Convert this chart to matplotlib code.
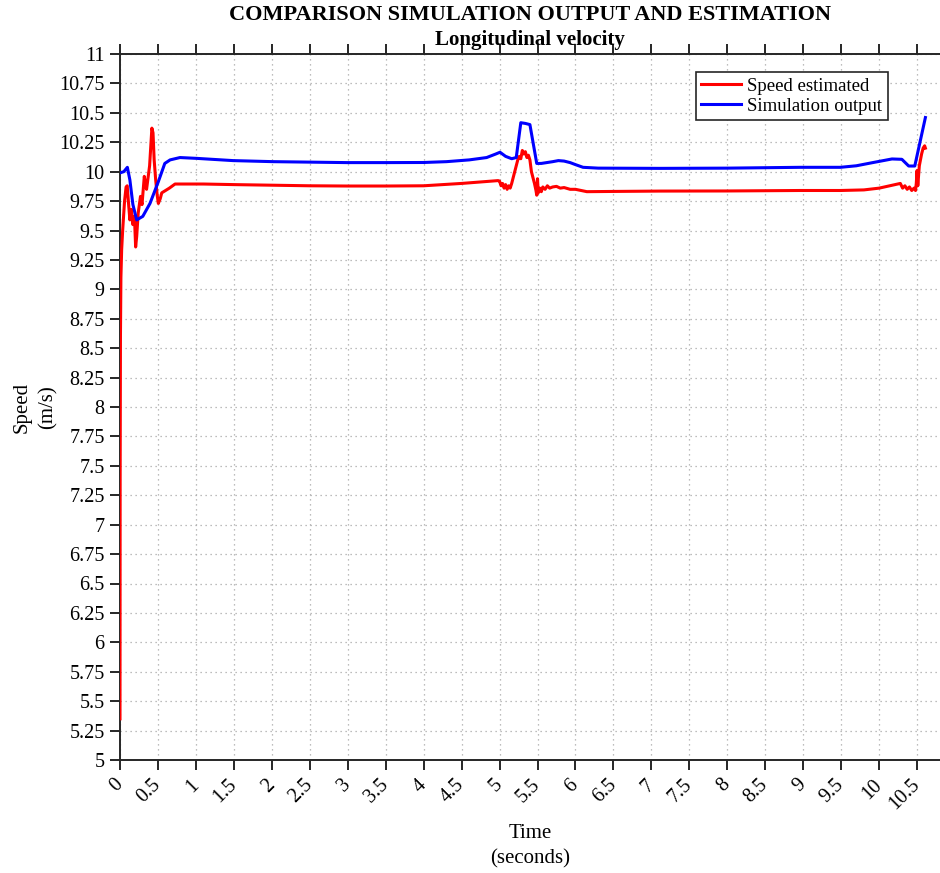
import matplotlib
matplotlib.use('Agg')
import matplotlib.pyplot as plt
import matplotlib.transforms as mtrans
import numpy as np

plt.rcParams['font.family'] = ['Liberation Serif', 'DejaVu Serif']

# simulation output (blue)
sim_t = [0, 0.05, 0.097, 0.13, 0.17, 0.22, 0.3, 0.395, 0.505, 0.59, 0.66, 0.79,
         1.01, 1.49, 2.02, 2.99, 3.5, 4.0, 4.3, 4.6, 4.83, 4.95, 5.006, 5.08,
         5.16, 5.22, 5.28, 5.34, 5.40, 5.49, 5.55, 5.62, 5.7, 5.775, 5.85,
         5.93, 6.0, 6.10, 6.3, 7.11, 8.0, 8.96, 9.49, 9.7, 9.9, 10.17, 10.30,
         10.39, 10.47, 10.61]
sim_v = [9.99, 10.0, 10.037, 9.93, 9.72, 9.59, 9.62, 9.73, 9.915, 10.07, 10.10,
         10.12, 10.113, 10.094, 10.085, 10.077, 10.077, 10.078, 10.085, 10.10,
         10.12, 10.15, 10.165, 10.13, 10.11, 10.12, 10.416, 10.41, 10.40, 10.07,
         10.07, 10.077, 10.085, 10.094, 10.09, 10.077, 10.06, 10.037, 10.03,
         10.028, 10.03, 10.037, 10.037, 10.05, 10.075, 10.108, 10.105, 10.048,
         10.048, 10.46]

# estimated speed (red)
est_t = [0, 0.002, 0.006, 0.012, 0.022, 0.035, 0.044, 0.06, 0.08, 0.095, 0.11,
         0.13, 0.15, 0.17, 0.19, 0.206, 0.22, 0.24, 0.27, 0.29, 0.32, 0.34,
         0.35, 0.37, 0.39, 0.42, 0.435, 0.45, 0.47, 0.49, 0.505, 0.53, 0.55,
         0.6, 0.65, 0.725, 0.8, 1.1, 1.5, 2.0, 2.5, 2.99, 3.5, 4.0, 4.5, 4.8,
         4.98, 5.0, 5.02, 5.04, 5.06, 5.08, 5.1, 5.12, 5.14, 5.16, 5.18, 5.2,
         5.22, 5.24, 5.26, 5.28, 5.3, 5.32, 5.34, 5.36, 5.38, 5.4, 5.42, 5.44,
         5.46, 5.48, 5.49, 5.5, 5.51, 5.53, 5.55, 5.57, 5.6, 5.63, 5.66, 5.7,
         5.75, 5.8, 5.85, 5.93, 6.0, 6.15, 6.5, 7.11, 8.0, 8.96, 9.49, 9.8,
         10.0, 10.14, 10.28, 10.31, 10.34, 10.37, 10.4, 10.43, 10.46, 10.48,
         10.49, 10.5, 10.51, 10.53, 10.56, 10.58, 10.6, 10.61]
est_v = [5.35, 7.4, 8.6, 9.1, 9.34, 9.5, 9.59, 9.75, 9.87, 9.88, 9.75,
         9.59, 9.68, 9.55, 9.62, 9.36, 9.45, 9.65, 9.79, 9.72, 9.96, 9.88,
         9.85, 9.95, 10.05, 10.37, 10.33, 10.1, 9.93, 9.8, 9.73, 9.77, 9.82,
         9.84, 9.86, 9.895, 9.895, 9.895, 9.89, 9.885, 9.88, 9.878, 9.878,
         9.88, 9.9, 9.915, 9.924, 9.92, 9.88, 9.9, 9.86, 9.89, 9.85, 9.88,
         9.86, 9.9, 9.95, 10.0, 10.05, 10.1, 10.13, 10.11, 10.18, 10.15,
         10.17, 10.12, 10.14, 10.1, 10.0, 9.95, 9.9, 9.84, 9.80, 9.94, 9.82,
         9.86, 9.83, 9.87, 9.85, 9.88, 9.86, 9.87, 9.875, 9.86, 9.865, 9.85,
         9.85, 9.83, 9.832, 9.835, 9.836, 9.84, 9.84, 9.845, 9.86, 9.88, 9.90,
         9.86, 9.88, 9.85, 9.87, 9.84, 9.86, 9.84, 9.90, 10.01, 9.88, 10.05,
         10.15, 10.20, 10.22, 10.20]

x_ticks = np.arange(0, 10.51, 0.5)
y_ticks = np.arange(5, 11.01, 0.25)

fig = plt.figure(figsize=(9.4, 8.73), dpi=100)
ax = fig.add_axes([120 / 940, 113 / 873, 835 / 940, 706 / 873])

ax.plot(est_t, est_v, color='red', linewidth=2.2, label='Speed estimated',
        zorder=3)
ax.plot(sim_t, sim_v, color='blue', linewidth=2.2, label='Simulation output',
        zorder=3)

ax.set_xlim(0, 11)
ax.set_ylim(5, 11)
ax.set_xticks(x_ticks)
ax.set_xticklabels(['%g' % v for v in x_ticks], rotation=45, ha='right',
                   va='center', rotation_mode='anchor', fontsize=14.5)
ax.set_yticks(y_ticks)
ax.set_yticklabels(['%g' % v for v in y_ticks], fontsize=14.5)

# nudge the rotated labels so their ends sit just right of the ticks
shift = mtrans.ScaledTranslation(7 / 100, 0, fig.dpi_scale_trans)
for lbl in ax.get_xticklabels():
    lbl.set_transform(lbl.get_transform() + shift)

spine_col = '#262626'
for side in ['left', 'bottom', 'top']:
    ax.spines[side].set_color(spine_col)
    ax.spines[side].set_linewidth(1.4)
ax.spines['right'].set_visible(False)
ax.tick_params(direction='out', length=7, width=1.4, color=spine_col,
               top=True, right=False, labelcolor='black')
ax.tick_params(axis='x', pad=9)
ax.tick_params(axis='y', pad=4)

ax.grid(True, linestyle=(0, (1, 3)), color='#a8a8a8', linewidth=0.9)

ax.set_xlabel('Time\n(seconds)', fontsize=15, linespacing=1.45)
ax.xaxis.set_label_coords(0.491, -0.09)
ax.set_ylabel('Speed\n(m/s)', fontsize=15, linespacing=1.45)
ax.yaxis.set_label_coords(-0.075, 0.5)

fig.text(530 / 940, 1 - 15 / 873, 'COMPARISON SIMULATION OUTPUT AND ESTIMATION',
         ha='center', va='center', fontsize=16, fontweight='bold')
fig.text(530 / 940, 1 - 40 / 873, 'Longitudinal velocity',
         ha='center', va='center', fontsize=15, fontweight='bold')

leg = ax.legend(loc='upper right', bbox_to_anchor=(888 / 940, 1 - 72 / 873),
                bbox_transform=fig.transFigure, borderaxespad=0, fontsize=13.5,
                fancybox=False, framealpha=1, edgecolor='#262626',
                handlelength=2.1, handletextpad=0.35, borderpad=0.3,
                labelspacing=0.15)
leg.get_frame().set_linewidth(1.2)

fig.savefig('out.png', dpi=100)
